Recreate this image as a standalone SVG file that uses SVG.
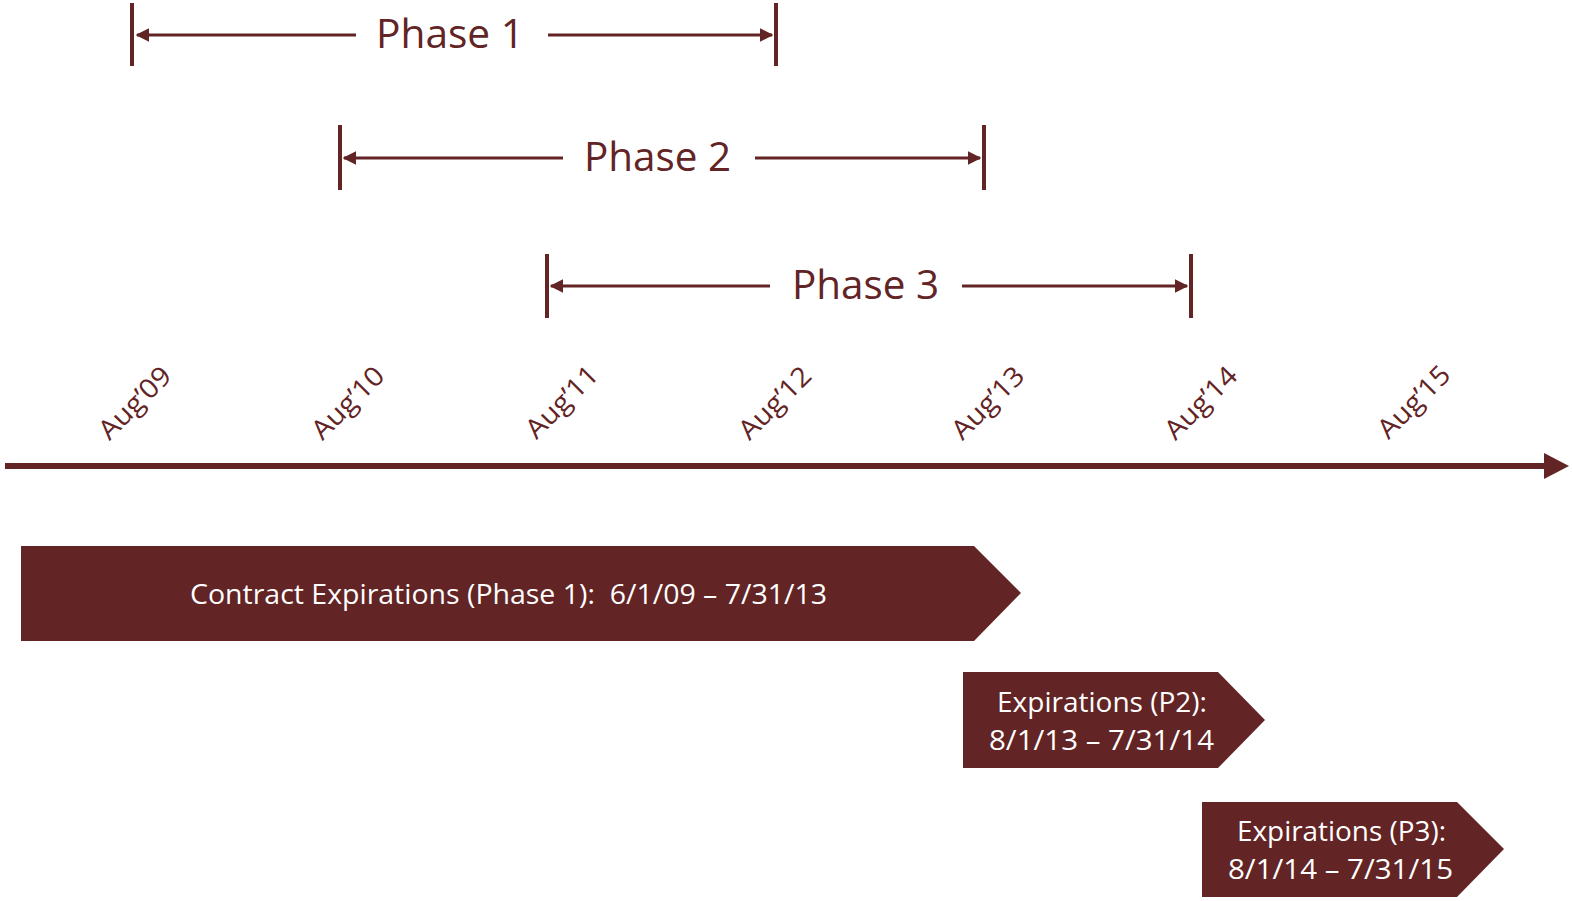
<svg xmlns="http://www.w3.org/2000/svg" width="1572" height="901" viewBox="0 0 1572 901">
<style>
.c{fill:#622424}
.bar{stroke:#622424;stroke-width:4}
.ln{stroke:#622424;stroke-width:3;fill:none}
.ph{font-family:"Open Sans","Liberation Sans",sans-serif;font-size:40px;fill:#622424}
.tk{font-family:"Open Sans","Liberation Sans",sans-serif;font-size:27px;fill:#622424}
.wt{font-family:"Open Sans","Liberation Sans",sans-serif;font-size:27px;fill:#ffffff}
</style>
<defs>
<marker id="ah" viewBox="0 0 10 10" refX="9" refY="5" markerWidth="4.5" markerHeight="4.5" orient="auto-start-reverse" markerUnits="strokeWidth">
<path d="M0,0 L10,5 L0,10 z" fill="#622424"/>
</marker>
</defs>
<g id="connectors">
<line class="ln" x1="356" y1="35" x2="137" y2="35" marker-end="url(#ah)"/>
<line class="ln" x1="548" y1="35" x2="772" y2="35" marker-end="url(#ah)"/>
<line class="ln" x1="563" y1="158" x2="344" y2="158" marker-end="url(#ah)"/>
<line class="ln" x1="755" y1="158" x2="980" y2="158" marker-end="url(#ah)"/>
<line class="ln" x1="770" y1="286" x2="551" y2="286" marker-end="url(#ah)"/>
<line class="ln" x1="962" y1="286" x2="1187" y2="286" marker-end="url(#ah)"/>
</g>
<g id="phase1">
<line class="bar" x1="132" y1="3" x2="132" y2="66"/>
<line class="bar" x1="776" y1="3" x2="776" y2="66"/>
<text class="ph" x="376" y="48" textLength="148" lengthAdjust="spacingAndGlyphs">Phase 1</text>
</g>
<g id="phase2">
<line class="bar" x1="340" y1="125" x2="340" y2="190"/>
<line class="bar" x1="984" y1="125" x2="984" y2="190"/>
<text class="ph" x="584" y="171" textLength="147" lengthAdjust="spacingAndGlyphs">Phase 2</text>
</g>
<g id="phase3">
<line class="bar" x1="547" y1="254" x2="547" y2="318"/>
<line class="bar" x1="1191" y1="254" x2="1191" y2="318"/>
<text class="ph" x="792" y="299" textLength="147" lengthAdjust="spacingAndGlyphs">Phase 3</text>
</g>
<g id="axis">
<rect class="c" x="5" y="463" width="1542" height="6"/>
<path class="c" d="M1544,453 L1569,466 L1544,479 z"/>
</g>
<g id="ticks">
<text class="tk" transform="translate(135,403) rotate(-45)" x="0" y="9" text-anchor="middle" textLength="90" lengthAdjust="spacingAndGlyphs">Aug’09</text>
<text class="tk" transform="translate(348,403) rotate(-45)" x="0" y="9" text-anchor="middle" textLength="90" lengthAdjust="spacingAndGlyphs">Aug’10</text>
<text class="tk" transform="translate(562,402) rotate(-45)" x="0" y="9" text-anchor="middle" textLength="90" lengthAdjust="spacingAndGlyphs">Aug’11</text>
<text class="tk" transform="translate(775,403) rotate(-45)" x="0" y="9" text-anchor="middle" textLength="90" lengthAdjust="spacingAndGlyphs">Aug’12</text>
<text class="tk" transform="translate(988,403) rotate(-45)" x="0" y="9" text-anchor="middle" textLength="90" lengthAdjust="spacingAndGlyphs">Aug’13</text>
<text class="tk" transform="translate(1201,403) rotate(-45)" x="0" y="9" text-anchor="middle" textLength="90" lengthAdjust="spacingAndGlyphs">Aug’14</text>
<text class="tk" transform="translate(1414,402) rotate(-45)" x="0" y="9" text-anchor="middle" textLength="90" lengthAdjust="spacingAndGlyphs">Aug’15</text>
</g>
<g id="exp1">
<path class="c" d="M21,546 L974,546 L1021,593 L974,641 L21,641 z"/>
<text class="wt" x="190" y="604" textLength="637" lengthAdjust="spacingAndGlyphs">Contract Expirations (Phase 1):&#160; 6/1/09 – 7/31/13</text>
</g>
<g id="exp2">
<path class="c" d="M963,672 L1218,672 L1265,720 L1218,768 L963,768 z"/>
<text class="wt" x="997" y="712" textLength="210" lengthAdjust="spacingAndGlyphs">Expirations (P2):</text>
<text class="wt" x="989" y="750" textLength="225" lengthAdjust="spacingAndGlyphs">8/1/13 – 7/31/14</text>
</g>
<g id="exp3">
<path class="c" d="M1202,802 L1457,802 L1504,849 L1457,897 L1202,897 z"/>
<text class="wt" x="1237" y="841" textLength="209" lengthAdjust="spacingAndGlyphs">Expirations (P3):</text>
<text class="wt" x="1228" y="879" textLength="225" lengthAdjust="spacingAndGlyphs">8/1/14 – 7/31/15</text>
</g>
</svg>
